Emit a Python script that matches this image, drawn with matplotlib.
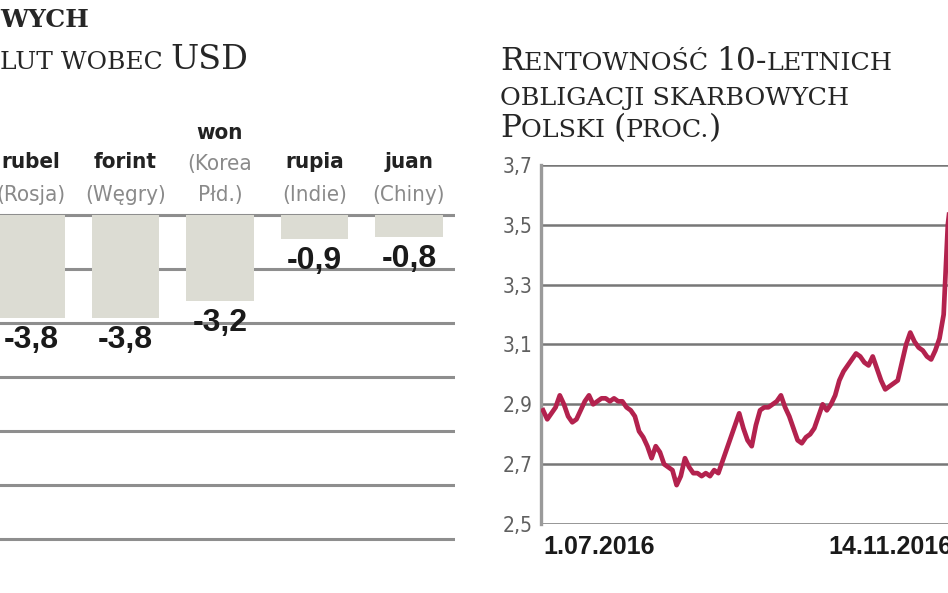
import numpy as np
import matplotlib
matplotlib.use("Agg")
import matplotlib.pyplot as plt

# lewy wykres - zmiana kursow walut wobec USD (proc.)
waluty = ["rubel", "forint", "won", "rupia", "juan"]
kraje = ["(Rosja)", "(Węgry)", "(Korea\nPłd.)", "(Indie)", "(Chiny)"]
zmiana = [-3.8, -3.8, -3.2, -0.9, -0.8]

# prawy wykres - rentownosc 10-letnich obligacji (proc.)
rentownosc = [
    2.88, 2.85, 2.87, 2.89, 2.93, 2.90, 2.86, 2.84, 2.85, 2.88,
    2.91, 2.93, 2.90, 2.91, 2.92, 2.92, 2.91, 2.92, 2.91, 2.91,
    2.89, 2.88, 2.86, 2.81, 2.79, 2.76, 2.72, 2.76, 2.74, 2.70,
    2.69, 2.68, 2.63, 2.66, 2.72, 2.69, 2.67, 2.67, 2.66, 2.67,
    2.66, 2.68, 2.67, 2.71, 2.75, 2.79, 2.83, 2.87, 2.82, 2.78,
    2.76, 2.83, 2.88, 2.89, 2.89, 2.90, 2.91, 2.93, 2.89, 2.86,
    2.82, 2.78, 2.77, 2.79, 2.80, 2.82, 2.86, 2.90, 2.88, 2.90,
    2.93, 2.98, 3.01, 3.03, 3.05, 3.07, 3.06, 3.04, 3.03, 3.06,
    3.02, 2.98, 2.95, 2.96, 2.97, 2.98, 3.04, 3.10, 3.14, 3.11,
    3.09, 3.08, 3.06, 3.05, 3.08, 3.12, 3.20, 3.50, 3.62,
]
daty = ["1.07.2016", "14.11.2016"]
y_ticks = [2.5, 2.7, 2.9, 3.1, 3.3, 3.5, 3.7]

# tytuly (kapitaliki: tekst, rozmiar)
tytul_lewy = [[("WYCH", 18)], [("LUT WOBEC ", 18), ("USD", 24)]]
tytul_prawy = [
    [("R", 22.5), ("ENTOWNOŚĆ ", 18.3), ("10-", 22.5), ("LETNICH", 18.3)],
    [("OBLIGACJI SKARBOWYCH", 18.3)],
    [("P", 22.5), ("OLSKI ", 18.3), ("(", 22.5), ("PROC.", 18.3), (")", 22.5)],
]

W, H = 948, 593
grid_c = "#8e8e8e"

fig = plt.figure(figsize=(W / 100, H / 100), dpi=100)
renderer = fig.canvas.get_renderer()


def kapitaliki(x, y, parts, bold=False):
    # rysuje kolejne kawalki tekstu jeden za drugim (x, y w pikselach, linia bazowa)
    for s, size in parts:
        t = fig.text(x / W, 1 - y / H, s, fontsize=size, family="DejaVu Serif",
                     weight="bold" if bold else "normal", color="#262626",
                     va="baseline", ha="left")
        x += t.get_window_extent(renderer).width
    return x


# ---------- lewy wykres ----------
spacing = 94.5
cx0 = 31
ax = fig.add_axes([0, 1 - 544.4 / H, 455 / W, (544.4 - 209.6) / H])
xs = np.arange(len(waluty))
ax.bar(xs, zmiana, width=0.71, color="#dcdcd3", zorder=3)
ax.set_xlim(-cx0 / spacing, len(waluty) - 1 + (455 - 409) / spacing)
ax.set_ylim(-12.2, 0.2)
ax.set_yticks(np.arange(0, -13, -2))
ax.yaxis.grid(True, color=grid_c, lw=2.2)
ax.set_axisbelow(True)
ax.tick_params(length=0, labelleft=False, labelbottom=False)
for s in ax.spines.values():
    s.set_visible(False)

for x, w, k, v in zip(xs, waluty, kraje, zmiana):
    ax.annotate(k, (x, 0), xytext=(0, 7), textcoords="offset points",
                ha="center", va="bottom", fontsize=16, family="DejaVu Sans",
                fontstretch="condensed", color="#8a8a8a", linespacing=1.72,
                annotation_clip=False)
    n = k.count("\n") + 1
    ax.annotate(w, (x, 0), xytext=(0, 31 + (n - 1) * 21), textcoords="offset points",
                ha="center", va="bottom", fontsize=16, family="DejaVu Sans",
                fontstretch="condensed", weight="bold", color="#222222",
                annotation_clip=False)
    ax.annotate(f"{v:.1f}".replace(".", ","), (x, v), xytext=(0, -5),
                textcoords="offset points", ha="center", va="top",
                fontsize=23, family="Liberation Sans", weight="bold",
                color="#1a1a1a", annotation_clip=False)

# ---------- prawy wykres ----------
ax2 = fig.add_axes([541 / W, 1 - 524 / H, (952 - 541) / W, (524 - 165) / H])
ax2.plot(np.arange(len(rentownosc)), rentownosc, color="#b3224e", lw=3.4,
         solid_joinstyle="round", zorder=3)
ax2.set_xlim(-0.5, len(rentownosc) - 1)
ax2.set_ylim(2.5, 3.7)
ax2.set_yticks(y_ticks)
ax2.set_yticklabels([f"{v:.1f}".replace(".", ",") for v in y_ticks],
                    fontsize=15, family="DejaVu Sans", fontstretch="condensed",
                    color="#606060")
ax2.yaxis.grid(True, color="#777777", lw=1.8)
ax2.set_xticks([0, len(rentownosc) - 1])
ax2.set_xticklabels(daty, fontsize=18, family="Liberation Sans",
                    weight="bold", color="#1a1a1a")
xl = ax2.get_xticklabels()
xl[0].set_ha("left")
xl[1].set_ha("right")
ax2.tick_params(length=0)
ax2.tick_params(axis="y", pad=6)
ax2.tick_params(axis="x", pad=8)
for s in ["top", "right", "bottom"]:
    ax2.spines[s].set_visible(False)
ax2.spines["left"].set_color("#9a9a9a")
ax2.spines["left"].set_linewidth(2.4)

# ---------- tytuly ----------
# lewy tytul jest uciety z lewej strony kadru
kapitaliki(0, 27, tytul_lewy[0], bold=True)
kapitaliki(0, 69, tytul_lewy[1])
for parts, yb in zip(tytul_prawy, [70, 105, 137]):
    kapitaliki(500, yb, parts)

fig.savefig("out.png", dpi=100)
